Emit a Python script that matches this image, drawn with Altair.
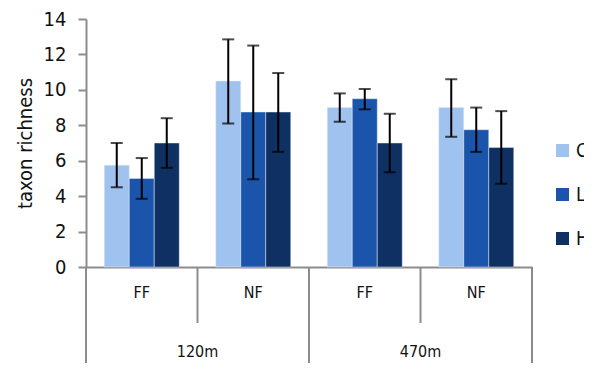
import altair as alt
import pandas as pd

sites = ["120m", "120m", "470m", "470m"]
forests = ["FF", "NF", "FF", "NF"]
series = ["C", "L", "H"]
colors = ["#9fc2ee", "#1a55ab", "#0e3063"]

means = {
    "C": [5.75, 10.5, 9.0, 9.0],
    "L": [5.0, 8.75, 9.5, 7.75],
    "H": [7.0, 8.75, 7.0, 6.75],
}
err_hi = {
    "C": [7.0, 12.85, 9.8, 10.6],
    "L": [6.15, 12.5, 10.05, 9.0],
    "H": [8.4, 10.95, 8.65, 8.8],
}
err_lo = {
    "C": [4.5, 8.1, 8.2, 7.35],
    "L": [3.85, 4.95, 8.9, 6.5],
    "H": [5.6, 6.5, 5.35, 4.7],
}

groups = [f"{s} {f}" for s, f in zip(sites, forests)]

rows = []
for s in series:
    for i, g in enumerate(groups):
        rows.append({"grp": g, "series": s, "value": means[s][i],
                     "hi": err_hi[s][i], "lo": err_lo[s][i]})
df = pd.DataFrame(rows)

cat = pd.DataFrame({"grp": groups, "site": sites, "forest": forests})

FONT = "DejaVu Sans Condensed"
GRAY = "#8c8c8c"
W, H = 446, 248

xscale = alt.Scale(domain=groups, paddingInner=0, paddingOuter=0)
x = alt.X("grp:N", scale=xscale, sort=groups,
          axis=alt.Axis(labels=False, ticks=False, title=None,
                        domainColor=GRAY, domainWidth=2))
xoff = alt.XOffset("series:N", sort=series,
                   scale=alt.Scale(domain=series, paddingOuter=0.73, paddingInner=0))
yscale = alt.Scale(domain=[0, 14], nice=False, zero=True)
yaxis = alt.Axis(values=list(range(0, 15, 2)), grid=False, title="taxon richness",
                 labelOverlap=False)

bars = alt.Chart(df).mark_bar(stroke="#e8eef8", strokeWidth=0.8, strokeOpacity=0.6).encode(
    x=x, xOffset=xoff, y=alt.Y("value:Q", scale=yscale, axis=yaxis),
    color=alt.Color("series:N", sort=series,
                    scale=alt.Scale(domain=series, range=colors),
                    legend=alt.Legend(title=None, orient="none", legendX=467, legendY=122,
                                      symbolType="square")),
)

ebar = alt.Chart(df).mark_rule(color="black", strokeWidth=2).encode(
    x=x, xOffset=xoff, y=alt.Y("lo:Q", scale=yscale, axis=yaxis), y2="hi:Q")
cap_hi = alt.Chart(df).mark_tick(color="black", thickness=2, size=12).encode(
    x=x, xOffset=xoff, y=alt.Y("hi:Q", scale=yscale, axis=yaxis))
cap_lo = alt.Chart(df).mark_tick(color="black", thickness=2, size=12).encode(
    x=x, xOffset=xoff, y=alt.Y("lo:Q", scale=yscale, axis=yaxis))

xb = lambda bp: alt.X("grp:N", scale=xscale, sort=groups, bandPosition=bp)

outer_lines = alt.Chart(cat).transform_filter(alt.datum.forest == "FF").mark_rule(
    color=GRAY, strokeWidth=2).encode(x=xb(0), y=alt.value(H), y2=alt.value(H + 125))
end_line = alt.Chart(cat).transform_filter(alt.datum.grp == groups[-1]).mark_rule(
    color=GRAY, strokeWidth=2).encode(x=xb(1), y=alt.value(H), y2=alt.value(H + 125))
inner_lines = alt.Chart(cat).transform_filter(alt.datum.forest == "NF").mark_rule(
    color=GRAY, strokeWidth=2).encode(x=xb(0), y=alt.value(H), y2=alt.value(H + 56))

forest_text = alt.Chart(cat).mark_text(font=FONT, fontSize=16, color="#111",
                                       baseline="middle").encode(
    x=xb(0.5), y=alt.value(H + 26), text="forest:N")
site_text = alt.Chart(cat).transform_filter(alt.datum.forest == "NF").mark_text(
    font=FONT, fontSize=16, color="#111", baseline="middle").encode(
    x=xb(0), y=alt.value(H + 85), text="site:N")

chart = alt.layer(bars, ebar, cap_hi, cap_lo, outer_lines, end_line, inner_lines,
                  forest_text, site_text).properties(
    width=W, height=H,
    autosize=alt.AutoSizeParams(type="none"),
    padding={"left": 78, "top": 11, "right": 52, "bottom": 96},
    background="white",
).configure_view(stroke=None).configure_axisY(
    domainColor=GRAY, domainWidth=2, tickColor=GRAY, tickWidth=2,
    tickSize=8, labelPadding=12, labelFontSize=20, titleFontSize=20,
    titleFontWeight="normal", labelFont=FONT, titleFont=FONT,
    labelColor="#111", titleColor="#111", titlePadding=8,
).configure_legend(
    symbolSize=169, symbolStrokeWidth=0, labelFontSize=19,
    labelFont=FONT, labelColor="#111", rowPadding=24, labelOffset=4,
    labelLimit=0,
)

chart.save("out.html", embed_options={"renderer": "svg", "actions": False})
